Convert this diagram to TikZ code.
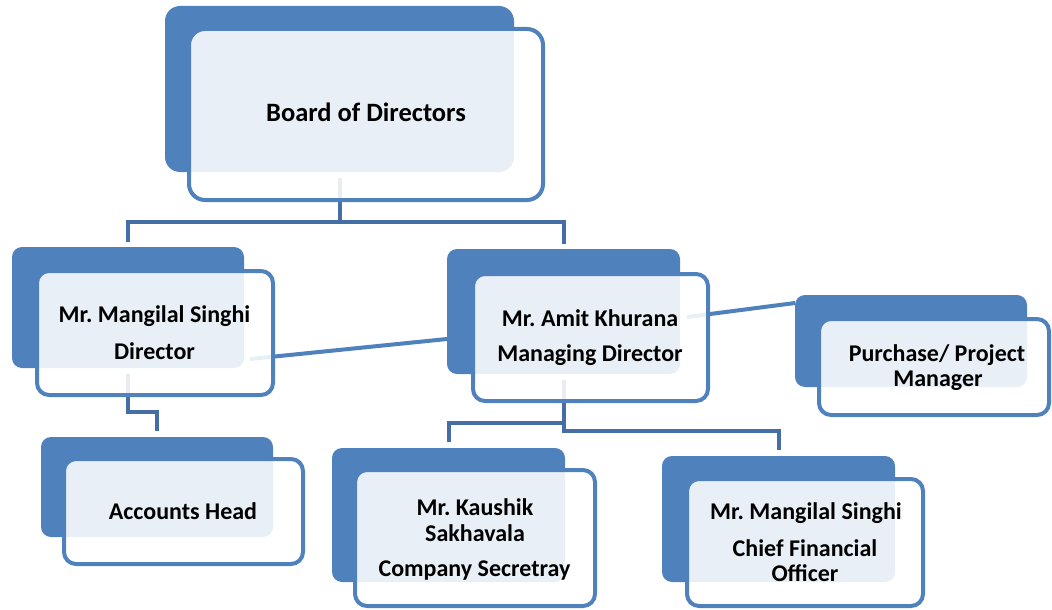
\documentclass[tikz,border=0pt]{standalone}
\usepackage{fontspec}
\setmainfont{Carlito}
\usetikzlibrary{backgrounds}
\definecolor{bluefill}{RGB}{79,129,189}
\definecolor{blueline}{RGB}{79,129,189}
\definecolor{conn}{RGB}{68,110,165}
\frenchspacing
\begin{document}
\begin{tikzpicture}[x=1pt,y=-1pt,
  backbox/.style={fill=bluefill, draw=none, rounded corners=10pt, inner sep=0pt, outer sep=0pt},
  frontbox/.style={draw=blueline, line width=4pt, fill=white, fill opacity=0.88, rounded corners=12pt, inner sep=0pt, outer sep=0pt},
  elbow/.style={draw=conn, line width=4pt},
  link/.style={draw=blueline, line width=4pt},
  lbl/.style={font=\fontsize{24}{24}\selectfont\bfseries, anchor=base, inner sep=0pt, text=black}]
\useasboundingbox (0,0) rectangle (1052,610);

% back boxes
\node[backbox, rounded corners=15pt, minimum width=349pt, minimum height=166pt] (boardB) at (339.5,89) {};
\node[backbox, minimum width=232pt, minimum height=121pt] (mangB) at (128,307.5) {};
\node[backbox, minimum width=233pt, minimum height=125pt] (amitB) at (563.5,311.5) {};
\node[backbox, minimum width=232pt, minimum height=92pt] (purB) at (911,341) {};
\node[backbox, minimum width=232pt, minimum height=100pt] (accB) at (157,487) {};
\node[backbox, minimum width=233pt, minimum height=134pt] (kauB) at (448.5,515) {};
\node[backbox, minimum width=233pt, minimum height=126pt] (cfoB) at (778.5,519) {};

% connector helper coordinates
\coordinate (hb) at (0,222);
\coordinate (ha) at (0,412);
\coordinate (hk) at (0,423);
\coordinate (hc) at (0,431);
\coordinate (ma1) at (250,359);
\coordinate (ma2) at (447,339);
\coordinate (ap1) at (687,317);
\coordinate (ap2) at (795,303);

% connectors (beneath the boxes)
\begin{pgfonlayer}{background}
\fill[white] (0,0) rectangle (1052,610);
\draw[elbow] ([yshift=-6pt]boardB.south) -- (boardB.south |- hb) -| ([yshift=5pt]mangB.north);
\draw[elbow] (boardB.south |- hb) -| ([yshift=5pt]amitB.north);
\draw[elbow] ([yshift=-6pt]mangB.south) -- (mangB.south |- ha) -| ([yshift=6pt]accB.north);
\draw[elbow] ([yshift=-6pt]amitB.south) -- (amitB.south |- hk) -| ([yshift=6pt]kauB.north);
\draw[elbow] (amitB.south |- hk) -- (amitB.south |- hc) -| ([yshift=6pt]cfoB.north);
\draw[link] (ma1) -- (ma2);
\draw[link] (ap1) -- (ap2);
\end{pgfonlayer}

% front boxes
\node[frontbox, rounded corners=16pt, minimum width=354pt, minimum height=171pt] (boardF) at (366,114.5) {};
\node[frontbox, minimum width=236pt, minimum height=124pt] (mangF) at (155,333) {};
\node[frontbox, minimum width=235pt, minimum height=127pt] (amitF) at (590.5,337.5) {};
\node[frontbox, minimum width=230pt, minimum height=96pt] (purF) at (934,367) {};
\node[frontbox, minimum width=239pt, minimum height=105pt] (accF) at (183.5,511.5) {};
\node[frontbox, minimum width=240pt, minimum height=136pt] (kauF) at (475,538) {};
\node[frontbox, minimum width=236pt, minimum height=127pt] (cfoF) at (805,542.5) {};

% labels
\node[lbl, font=\fontsize{26.5}{26.5}\selectfont\bfseries] (t1) at (366,121.7) {Board of Directors};
\node[lbl] (t2a) at (154.5,322.3) {Mr. Mangilal Singhi};
\node[lbl] (t2b) at (154.5,359) {Director};
\node[lbl] (t3a) at (590,326) {Mr. Amit Khurana};
\node[lbl] (t3b) at (590,361.7) {Managing Director};
\node[lbl] (t4a) at (937,361.7) {Purchase/ Project};
\node[lbl] (t4b) at (938,386) {Manager};
\node[lbl] (t5) at (183,519) {Accounts Head};
\node[lbl] (t6a) at (475,515) {Mr. Kaushik};
\node[lbl] (t6b) at (475,541.7) {Sakhavala};
\node[lbl] (t6c) at (474.5,576.7) {Company Secretray};
\node[lbl] (t7a) at (806,519.3) {Mr. Mangilal Singhi};
\node[lbl] (t7b) at (805,556) {Chief Financial};
\node[lbl] (t7c) at (805,581.7) {Officer};
\end{tikzpicture}
\end{document}
